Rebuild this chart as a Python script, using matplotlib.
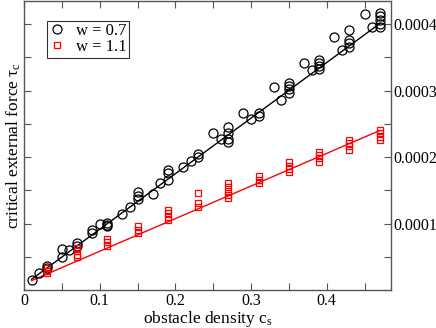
import numpy as np
import matplotlib
matplotlib.use("Agg")
import matplotlib.pyplot as plt
from matplotlib.ticker import MultipleLocator

plt.rcParams['font.family'] = ['Liberation Serif', 'DejaVu Serif']
plt.rcParams['mathtext.fontset'] = 'custom'
plt.rcParams['mathtext.rm'] = 'Liberation Serif'
plt.rcParams['mathtext.it'] = 'Liberation Serif'

# w = 0.7 (black circles)
cs_07 = [0.01, 0.02, 0.03, 0.03, 0.05, 0.05, 0.06, 0.07, 0.07, 0.09, 0.09,
         0.10, 0.11, 0.11, 0.11, 0.13, 0.14, 0.15, 0.15, 0.15, 0.17, 0.18,
         0.19, 0.19, 0.19, 0.21, 0.22, 0.23, 0.23, 0.25, 0.26,
         0.27, 0.27, 0.27, 0.27, 0.29, 0.30, 0.31, 0.31, 0.33, 0.34,
         0.35, 0.35, 0.35, 0.35, 0.37, 0.38, 0.39, 0.39, 0.39, 0.39,
         0.41, 0.42, 0.43, 0.43, 0.43, 0.43, 0.45, 0.46,
         0.47, 0.47, 0.47, 0.47, 0.47]
tau_07 = [1.5e-5, 2.5e-5, 3.6e-5, 3.3e-5, 6.1e-5, 5.0e-5, 6.0e-5, 7.1e-5, 6.6e-5, 9.0e-5, 8.6e-5,
          1.00e-4, 1.01e-4, 9.6e-5, 9.8e-5, 1.15e-4, 1.25e-4, 1.47e-4, 1.42e-4, 1.37e-4, 1.45e-4, 1.61e-4,
          1.81e-4, 1.76e-4, 1.66e-4, 1.85e-4, 1.94e-4, 2.05e-4, 2.00e-4, 2.36e-4, 2.27e-4,
          2.46e-4, 2.37e-4, 2.27e-4, 2.22e-4, 2.66e-4, 2.57e-4, 2.66e-4, 2.62e-4, 3.06e-4, 2.86e-4,
          3.12e-4, 3.07e-4, 3.02e-4, 2.96e-4, 3.41e-4, 3.31e-4, 3.46e-4, 3.42e-4, 3.37e-4, 3.33e-4,
          3.81e-4, 3.61e-4, 3.91e-4, 3.76e-4, 3.71e-4, 3.66e-4, 4.16e-4, 3.96e-4,
          4.17e-4, 4.12e-4, 4.07e-4, 4.01e-4, 3.96e-4]

# w = 1.1 (red squares)
cs_11 = [0.03, 0.03, 0.03, 0.07, 0.07, 0.07, 0.07, 0.11, 0.11, 0.11,
         0.15, 0.15, 0.15, 0.19, 0.19, 0.19, 0.19, 0.23, 0.23, 0.23,
         0.27, 0.27, 0.27, 0.27, 0.27, 0.31, 0.31, 0.31, 0.35, 0.35, 0.35, 0.35,
         0.39, 0.39, 0.39, 0.39, 0.43, 0.43, 0.43, 0.43, 0.47, 0.47, 0.47, 0.47]
tau_11 = [3.3e-5, 2.9e-5, 2.5e-5, 6.3e-5, 5.8e-5, 5.3e-5, 4.9e-5, 7.7e-5, 7.2e-5, 6.6e-5,
          9.6e-5, 9.1e-5, 8.5e-5, 1.21e-4, 1.16e-4, 1.10e-4, 1.06e-4, 1.46e-4, 1.31e-4, 1.25e-4,
          1.61e-4, 1.55e-4, 1.49e-4, 1.43e-4, 1.39e-4, 1.71e-4, 1.66e-4, 1.61e-4,
          1.92e-4, 1.87e-4, 1.82e-4, 1.78e-4, 2.08e-4, 2.03e-4, 1.98e-4, 1.93e-4,
          2.26e-4, 2.21e-4, 2.16e-4, 2.11e-4, 2.41e-4, 2.36e-4, 2.31e-4, 2.26e-4]

# linear fit lines (end points)
fit_x = [0.01, 0.47]
fit_07 = [1.6e-5, 4.01e-4]
fit_11 = [1.4e-5, 2.40e-4]

fig = plt.figure(figsize=(4.36, 3.28), dpi=100)
ax = fig.add_axes([0.055, 0.116, 0.842, 0.881])

ax.plot(fit_x, fit_07, color='black', lw=1.0, zorder=2)
ax.plot(fit_x, fit_11, color='red', lw=1.0, zorder=2)
ax.plot(cs_07, tau_07, 'o', mfc='none', mec='black', mew=0.9, ms=6.5, label='w = 0.7', zorder=3)
ax.plot(cs_11, tau_11, 's', mfc='none', mec='red', mew=0.9, ms=5, label='w = 1.1', zorder=3)

ax.set_xlim(0, 0.485)
ax.set_ylim(0, 0.000435)
ax.xaxis.set_major_locator(MultipleLocator(0.1))
ax.xaxis.set_minor_locator(MultipleLocator(0.05))
ax.yaxis.set_major_locator(MultipleLocator(0.0001))
ax.yaxis.set_minor_locator(MultipleLocator(0.00005))

ax.yaxis.tick_right()
ax.tick_params(which='both', direction='in', length=5, width=0.8, color='#555555',
               top=True, bottom=True, left=True, right=True, labelsize=11.5, pad=2.5)
ax.tick_params(axis='y', labelleft=False, labelright=True, pad=1.5)
for s in ax.spines.values():
    s.set_color('#555555')
    s.set_linewidth(1.0)

ax.xaxis.set_major_formatter(plt.FuncFormatter(lambda v, p: '0' if abs(v) < 1e-12 else '%g' % v))
ax.yaxis.set_major_formatter(plt.FuncFormatter(lambda v, p: '' if abs(v) < 1e-12 else '%.4f' % v))

ax.set_xlabel(r'obstacle density c$_\mathrm{s}$', fontsize=12.5, labelpad=0)
ax.set_ylabel(r'critical external force $\tau_\mathrm{c}$', fontsize=12.5, labelpad=1)
ax.yaxis.set_label_position('left')

leg = ax.legend(loc='upper left', bbox_to_anchor=(0.063, 0.932), fontsize=12, frameon=True,
                fancybox=False, edgecolor='black', handlelength=0.9, handletextpad=0.7,
                borderpad=0.15, labelspacing=0.0, borderaxespad=0)
leg.get_frame().set_linewidth(0.8)

fig.savefig('out.png', dpi=100)
